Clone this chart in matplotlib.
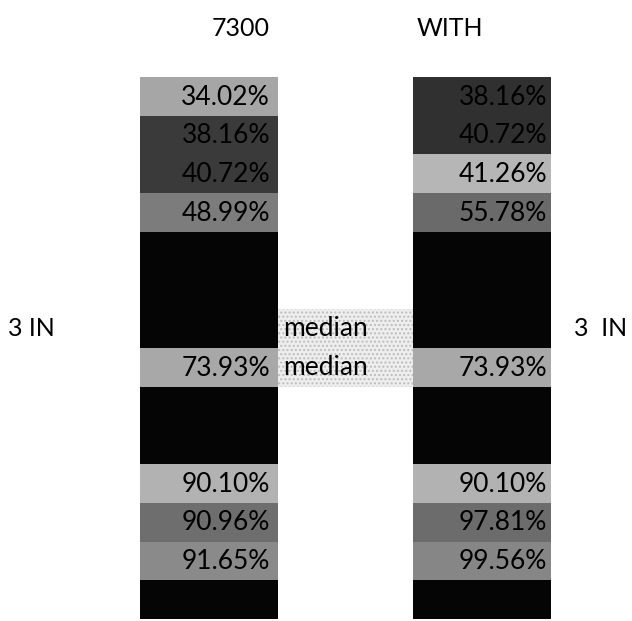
import numpy as np
import matplotlib
matplotlib.use("Agg")
import matplotlib.pyplot as plt

plt.rcParams['font.family'] = ['Lato', 'DejaVu Sans']

# column titles and row labels
titles = ["7300", "WITH"]
side_labels = ["3 IN", "3  IN"]

# one entry per row, top to bottom (black cells are unreadable in the scan)
left_labels = ["34.02%", "38.16%", "40.72%", "48.99%", "", "", "",
               "73.93%", "", "", "90.10%", "90.96%", "91.65%", ""]
right_labels = ["38.16%", "40.72%", "41.26%", "55.78%", "", "", "",
                "73.93%", "", "", "90.10%", "97.81%", "99.56%", ""]

left_grays = ["#a6a6a6", "#3a3a3a", "#3a3a3a", "#7c7c7c", "#050505", "#050505", "#050505",
              "#a8a8a8", "#050505", "#050505", "#b2b2b2", "#6e6e6e", "#8a8a8a", "#050505"]
right_grays = ["#303030", "#303030", "#b6b6b6", "#6a6a6a", "#050505", "#050505", "#050505",
               "#a8a8a8", "#050505", "#050505", "#b2b2b2", "#6c6c6c", "#868686", "#050505"]

median_rows = [6, 7]

W, H = 632, 621
fig = plt.figure(figsize=(W / 100, H / 100), dpi=100)
fig.patch.set_facecolor("white")

# axes covers the two columns, x in pixels, y in rows
ax = fig.add_axes([140 / W, (H - 619) / H, 411 / W, 542 / H])
n = len(left_labels)
ax.set_xlim(0, 411)
ax.set_ylim(n, 0)
ax.axis("off")

rows = np.arange(n)
col_w = 138
right_x0 = 273

ax.bar(0, 1, width=col_w, bottom=rows, align="edge", color=left_grays, linewidth=0)
ax.bar(right_x0, 1, width=411 - right_x0, bottom=rows, align="edge", color=right_grays, linewidth=0)

# stippled band behind the median notes
ax.bar(col_w, len(median_rows), width=right_x0 - col_w, bottom=median_rows[0], align="edge",
       color="#eeeeee", hatch="....", edgecolor="#bdbdbd", linewidth=0)

for i in rows:
    ax.text(col_w - 8, i + 0.52, left_labels[i], ha="right", va="center", fontsize=19, color="black")
    ax.text(411 - 4, i + 0.52, right_labels[i], ha="right", va="center", fontsize=19, color="black")

for r in median_rows:
    ax.text(col_w + 5, r + 0.5, "median", ha="left", va="center", fontsize=19, color="black")

fig.text(241 / W, 1 - 28 / H, titles[0], ha="center", va="center", fontsize=18)
fig.text(450 / W, 1 - 28 / H, titles[1], ha="center", va="center", fontsize=18)
fig.text(8 / W, 1 - 329 / H, side_labels[0], ha="left", va="center", fontsize=18)
fig.text(574 / W, 1 - 329 / H, side_labels[1], ha="left", va="center", fontsize=18)

fig.savefig("out.png", dpi=100)
